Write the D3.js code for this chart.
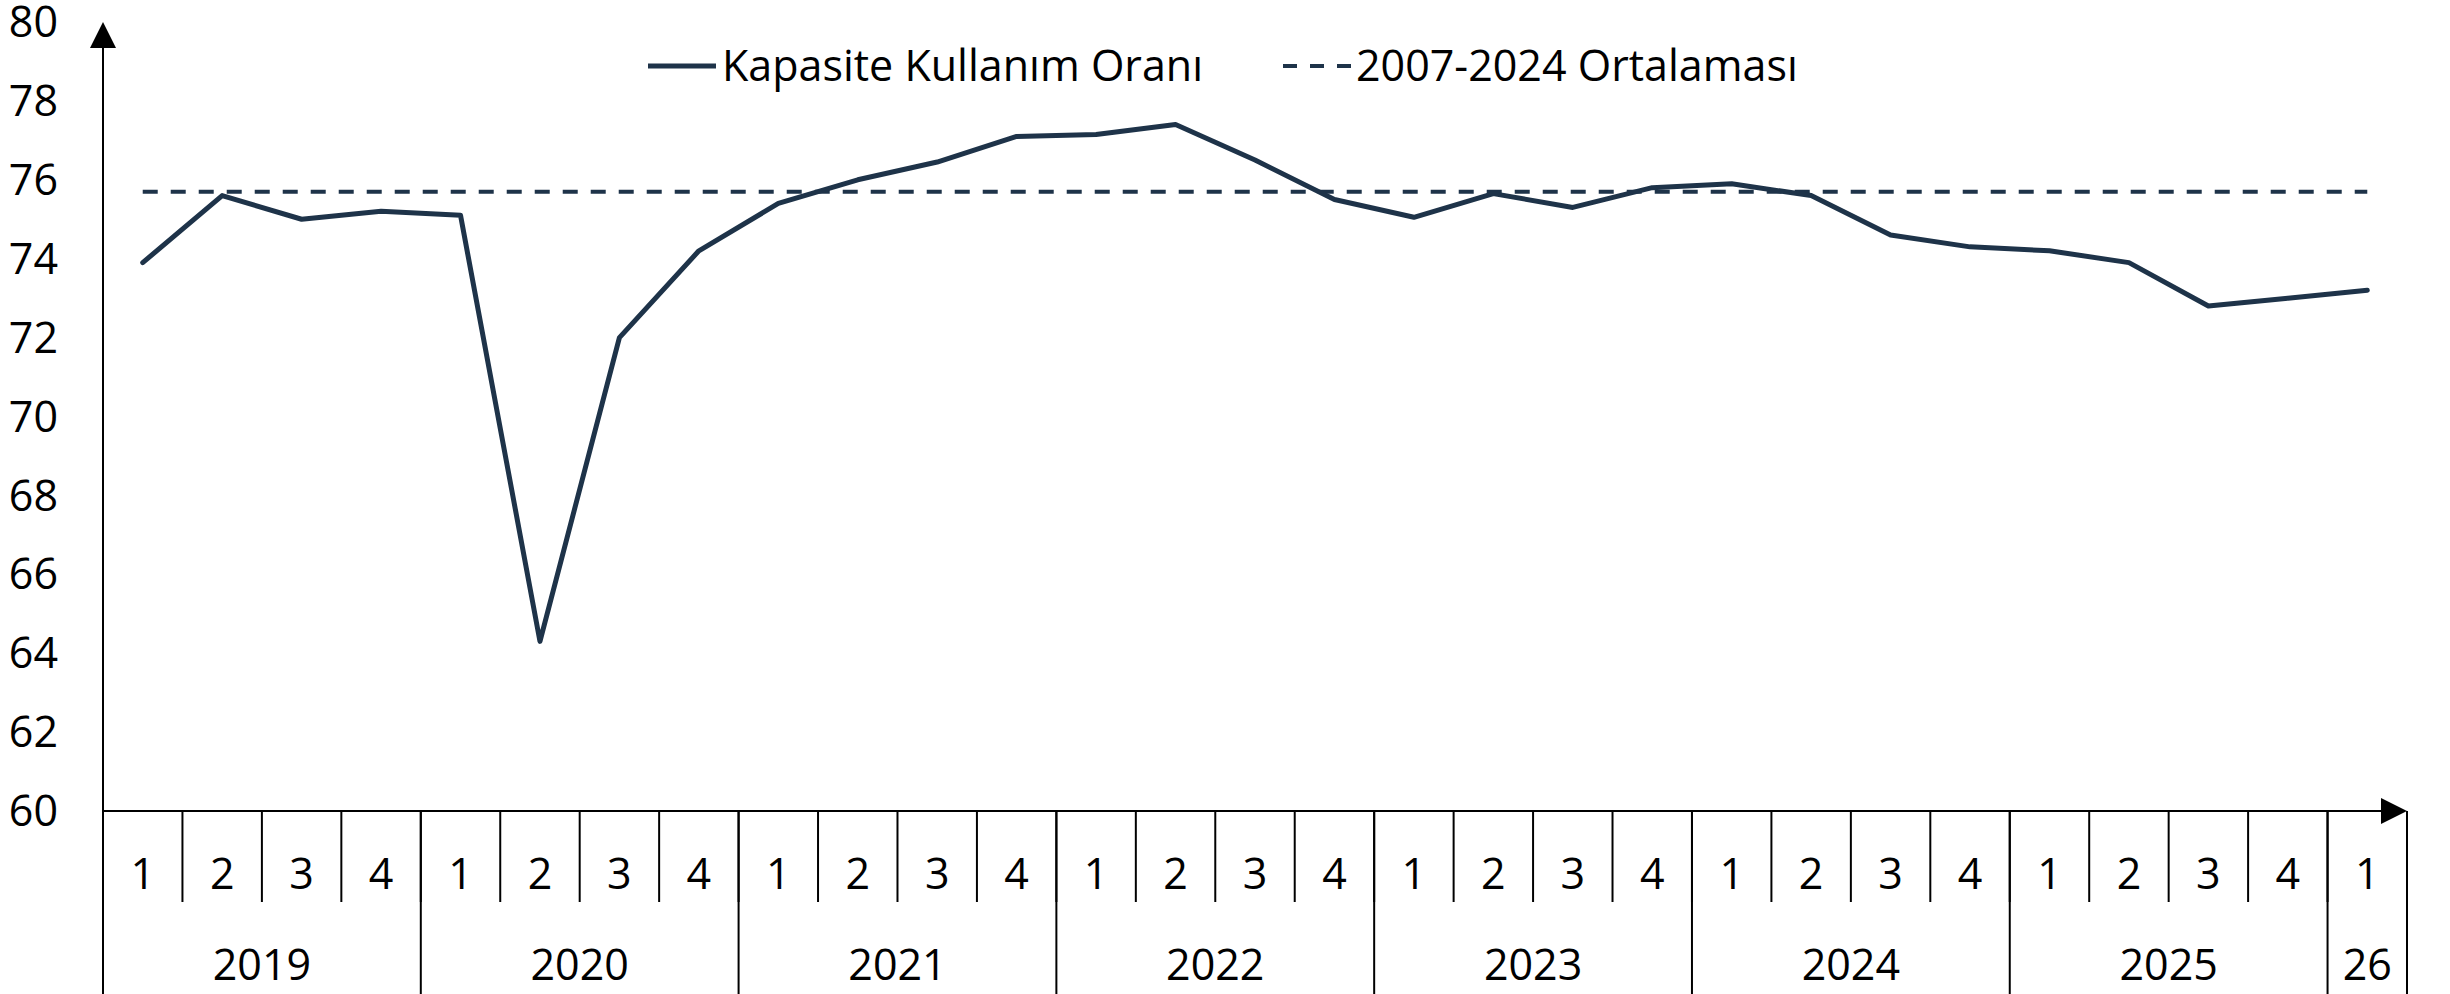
<!DOCTYPE html>
<html>
<head>
<meta charset="utf-8">
<script src="https://d3js.org/d3.v7.min.js"></script>
<style>
  body { margin: 0; background: #fff; }
  text { font-family: "Open Sans", sans-serif; fill: #000; }
</style>
</head>
<body>
<script>
// quarterly capacity utilisation
const periods = ['2019Q1','2019Q2','2019Q3','2019Q4','2020Q1','2020Q2','2020Q3','2020Q4',
  '2021Q1','2021Q2','2021Q3','2021Q4','2022Q1','2022Q2','2022Q3','2022Q4',
  '2023Q1','2023Q2','2023Q3','2023Q4','2024Q1','2024Q2','2024Q3','2024Q4',
  '2025Q1','2025Q2','2025Q3','2025Q4','2026Q1'];
const quarterLabels = ['1','2','3','4','1','2','3','4','1','2','3','4','1','2','3','4',
  '1','2','3','4','1','2','3','4','1','2','3','4','1'];
const yearLabels = ['2019','2020','2021','2022','2023','2024','2025','26'];
const yearQuarterCount = [4,4,4,4,4,4,4,1];
const values = [73.9,75.6,75.0,75.2,75.1,64.3,72.0,74.2,75.4,76.0,76.45,77.1,77.15,77.4,76.5,75.5,
  75.05,75.65,75.3,75.8,75.9,75.6,74.6,74.3,74.2,73.9,72.8,73.0,73.2];
const average = 75.7;
const yTicks = d3.range(60, 81, 2);

const W = 2450, H = 994;
const mLeft = 103, mRight = 2407, mTop = 22, mBase = 811;
const navy = '#1e3349';
const fs = 43;

const svg = d3.select('body').append('svg').attr('width', W).attr('height', H);

const x = d3.scaleBand().domain(periods).range([mLeft, mRight]);
const y = d3.scaleLinear().domain([60, 80]).range([mBase, mTop]);

// y labels (no tick marks)
const yAxis = svg.append('g').attr('transform', `translate(${mLeft - 45},0)`)
  .call(d3.axisLeft(y).tickValues(yTicks).tickSize(0).tickPadding(0));
yAxis.select('.domain').remove();
yAxis.selectAll('text').attr('font-size', fs).attr('font-family', '"Open Sans", sans-serif')
  .attr('fill', '#000').attr('text-anchor', 'end').attr('dy', '0.34em');

// quarter separators
svg.append('g').selectAll('line').data(periods.slice(1)).join('line')
  .attr('x1', d => x(d)).attr('x2', d => x(d))
  .attr('y1', mBase).attr('y2', 902)
  .attr('stroke', '#000').attr('stroke-width', 2);

// year separators
let starts = [0];
yearQuarterCount.forEach(c => starts.push(starts[starts.length - 1] + c));
const edge = i => i < periods.length ? x(periods[i]) : x(periods[i - 1]) + x.bandwidth();
svg.append('g').selectAll('line').data(starts).join('line')
  .attr('x1', edge).attr('x2', edge)
  .attr('y1', mBase).attr('y2', H)
  .attr('stroke', '#000').attr('stroke-width', 2);

// quarter labels
svg.append('g').selectAll('text').data(periods).join('text')
  .attr('x', d => x(d) + x.bandwidth() / 2).attr('y', 889)
  .attr('text-anchor', 'middle').attr('font-size', fs)
  .text((d, i) => quarterLabels[i]);

// year labels
svg.append('g').selectAll('text').data(yearLabels).join('text')
  .attr('x', (d, i) => (edge(starts[i]) + edge(starts[i + 1])) / 2)
  .attr('y', 980).attr('text-anchor', 'middle').attr('font-size', fs)
  .text(d => d);

// axes with arrows
svg.append('line').attr('x1', mLeft).attr('x2', mLeft).attr('y1', H).attr('y2', mTop + 24)
  .attr('stroke', '#000').attr('stroke-width', 2);
svg.append('path').attr('d', `M${mLeft - 13},${mTop + 26}L${mLeft},${mTop}L${mLeft + 13},${mTop + 26}Z`).attr('fill', '#000');
svg.append('line').attr('x1', mLeft).attr('x2', mRight - 24).attr('y1', mBase).attr('y2', mBase)
  .attr('stroke', '#000').attr('stroke-width', 2);
svg.append('path').attr('d', `M${mRight - 26},${mBase - 13}L${mRight},${mBase}L${mRight - 26},${mBase + 13}Z`).attr('fill', '#000');

// average line
const xc = d => x(d) + x.bandwidth() / 2;
svg.append('line')
  .attr('x1', xc(periods[0])).attr('x2', xc(periods[periods.length - 1]))
  .attr('y1', y(average)).attr('y2', y(average))
  .attr('stroke', navy).attr('stroke-width', 4).attr('stroke-dasharray', '15 13');

// series line
const line = d3.line().x((d, i) => xc(periods[i])).y(d => y(d));
svg.append('path').datum(values).attr('d', line)
  .attr('fill', 'none').attr('stroke', navy).attr('stroke-width', 5)
  .attr('stroke-linejoin', 'round').attr('stroke-linecap', 'round');

// legend
const lg = svg.append('g');
lg.append('line').attr('x1', 648).attr('x2', 716).attr('y1', 66).attr('y2', 66)
  .attr('stroke', navy).attr('stroke-width', 5);
lg.append('text').attr('x', 722).attr('y', 81).attr('font-size', fs).text('Kapasite Kullanım Oranı');
lg.append('line').attr('x1', 1283).attr('x2', 1353).attr('y1', 66).attr('y2', 66)
  .attr('stroke', navy).attr('stroke-width', 4).attr('stroke-dasharray', '14 13');
lg.append('text').attr('x', 1356).attr('y', 81).attr('font-size', fs).text('2007-2024 Ortalaması');
</script>
</body>
</html>
